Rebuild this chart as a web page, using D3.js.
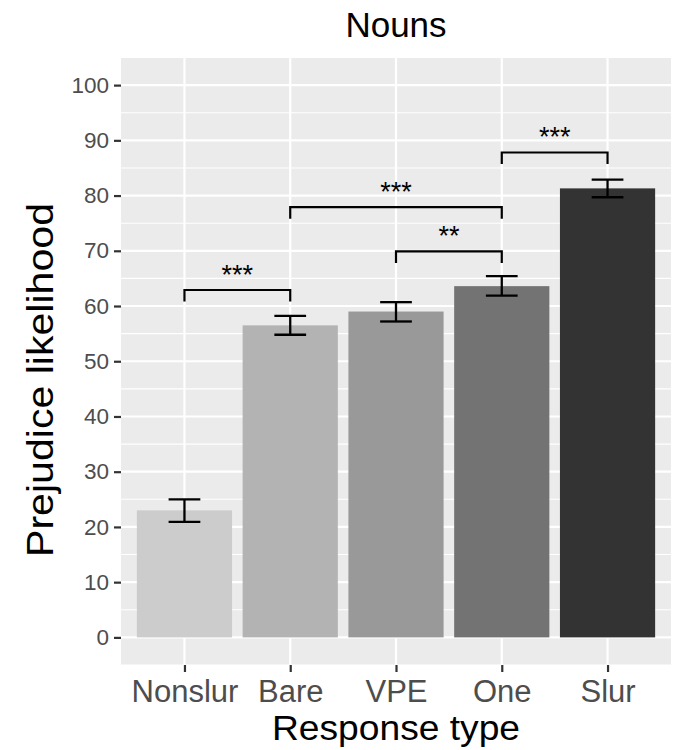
<!DOCTYPE html>
<html>
<head>
<meta charset="utf-8">
<script src="https://cdn.jsdelivr.net/npm/d3@7"></script>
<style>
  html, body { margin: 0; padding: 0; background: #ffffff; }
  svg { display: block; font-family: "Liberation Sans", Arial, Helvetica, sans-serif; }
</style>
</head>
<body>
<svg id="chart" width="677" height="750"></svg>
<script>
// ---- data ----
const categories = ["Nonslur", "Bare", "VPE", "One", "Slur"];
const means = [23.0, 56.5, 59.0, 63.6, 81.3];
const errLower = [20.9, 54.8, 57.2, 61.9, 79.7];
const errUpper = [25.0, 58.2, 60.7, 65.4, 82.9];
const barColors = ["#cccccc", "#b3b3b3", "#999999", "#737373", "#333333"];
const yTicks = [0, 10, 20, 30, 40, 50, 60, 70, 80, 90, 100];
const bracketFrom = ["Nonslur", "Bare", "VPE", "One"];
const bracketTo = ["Bare", "One", "One", "Slur"];
const bracketY = [62.9, 77.9, 69.9, 87.8];
const bracketLabels = ["***", "***", "**", "***"];
const titleText = "Nouns";
const xTitle = "Response type";
const yTitle = "Prejudice likelihood";

// ---- layout ----
const svg = d3.select("#chart");
const panel = { left: 121, right: 671, top: 57.5, bottom: 665 };

// ggplot-style discrete scale: 0.6 unit expansion each side, bar width 0.9
const x = d3.scalePoint()
  .domain(categories)
  .range([panel.left, panel.right])
  .padding(0.6);
const unit = x.step();
const cx = c => x(c);
const barW = 0.9 * unit;

const y = d3.scaleLinear().domain([-5, 105]).range([panel.bottom, panel.top]);

// panel background
svg.append("rect")
  .attr("x", panel.left).attr("y", panel.top)
  .attr("width", panel.right - panel.left).attr("height", panel.bottom - panel.top)
  .attr("fill", "#ebebeb");

// minor grid
const minor = d3.range(-5, 106, 10);
svg.append("g").selectAll("line").data(minor).join("line")
  .attr("x1", panel.left).attr("x2", panel.right)
  .attr("y1", d => y(d)).attr("y2", d => y(d))
  .attr("stroke", "#ffffff").attr("stroke-width", 1.1);

// major grid
svg.append("g").selectAll("line").data(yTicks).join("line")
  .attr("x1", panel.left).attr("x2", panel.right)
  .attr("y1", d => y(d)).attr("y2", d => y(d))
  .attr("stroke", "#ffffff").attr("stroke-width", 2.2);
svg.append("g").selectAll("line").data(categories).join("line")
  .attr("x1", d => cx(d)).attr("x2", d => cx(d))
  .attr("y1", panel.top).attr("y2", panel.bottom)
  .attr("stroke", "#ffffff").attr("stroke-width", 2.2);

// bars
svg.append("g").selectAll("rect").data(categories).join("rect")
  .attr("x", d => cx(d) - barW / 2)
  .attr("width", barW)
  .attr("y", (d, i) => y(means[i]))
  .attr("height", (d, i) => y(0) - y(means[i]))
  .attr("fill", (d, i) => barColors[i]);

// error bars
const eb = svg.append("g").attr("stroke", "#000").attr("stroke-width", 2.3).attr("fill", "none");
const capW = 0.3 * unit;
categories.forEach((c, i) => {
  const xc = cx(c);
  eb.append("line").attr("x1", xc).attr("x2", xc).attr("y1", y(errLower[i])).attr("y2", y(errUpper[i]));
  eb.append("line").attr("x1", xc - capW / 2).attr("x2", xc + capW / 2).attr("y1", y(errLower[i])).attr("y2", y(errLower[i]));
  eb.append("line").attr("x1", xc - capW / 2).attr("x2", xc + capW / 2).attr("y1", y(errUpper[i])).attr("y2", y(errUpper[i]));
});

// significance brackets
const br = svg.append("g");
const tip = 2.1;
bracketFrom.forEach((f, i) => {
  const x1 = cx(f), x2 = cx(bracketTo[i]);
  const yy = bracketY[i];
  br.append("path")
    .attr("d", d3.line()([[x1, y(yy - tip)], [x1, y(yy)], [x2, y(yy)], [x2, y(yy - tip)]]))
    .attr("fill", "none").attr("stroke", "#000").attr("stroke-width", 2.2);
  br.append("text")
    .attr("x", (x1 + x2) / 2)
    .attr("y", y(yy) - 6)
    .attr("text-anchor", "middle")
    .attr("font-size", 27)
    .attr("fill", "#000")
    .text(bracketLabels[i]);
});

// y axis
const yAxis = svg.append("g").attr("transform", `translate(${panel.left},0)`)
  .call(d3.axisLeft(y).tickValues(yTicks).tickSize(7).tickPadding(5));
yAxis.select(".domain").remove();
yAxis.selectAll(".tick line").attr("stroke", "#333333").attr("stroke-width", 2.2);
yAxis.selectAll(".tick text").attr("font-size", 22.5).attr("fill", "#4d4d4d")
  .attr("font-family", "Liberation Sans, Arial, sans-serif");

// x axis
const xAxis = svg.append("g").attr("transform", `translate(${0},${panel.bottom})`)
  .call(d3.axisBottom(x).tickSize(7).tickPadding(8));
xAxis.select(".domain").remove();
xAxis.selectAll(".tick line").attr("stroke", "#333333").attr("stroke-width", 2.2);
xAxis.selectAll(".tick text").attr("font-size", 31).attr("fill", "#4d4d4d")
  .attr("font-family", "Liberation Sans, Arial, sans-serif")
  .attr("dy", null).attr("y", 37);

// titles
svg.append("text").attr("x", (panel.left + panel.right) / 2).attr("y", 36.5)
  .attr("text-anchor", "middle").attr("font-size", 35).attr("fill", "#000").text(titleText);
svg.append("text").attr("x", (panel.left + panel.right) / 2).attr("y", 740)
  .attr("text-anchor", "middle").attr("font-size", 35).attr("fill", "#000")
  .attr("textLength", 248).attr("lengthAdjust", "spacingAndGlyphs").text(xTitle);
svg.append("text").attr("transform", "translate(53,380) rotate(-90)")
  .attr("text-anchor", "middle").attr("font-size", 37).attr("fill", "#000")
  .attr("textLength", 354).attr("lengthAdjust", "spacingAndGlyphs").text(yTitle);
</script>
</body>
</html>
